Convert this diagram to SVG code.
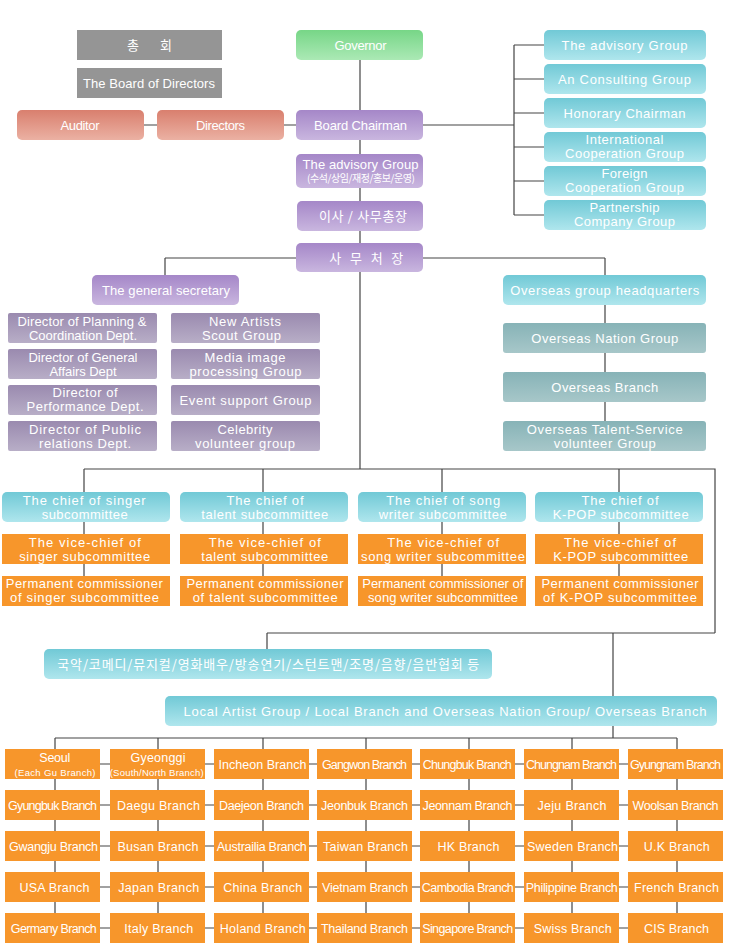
<svg xmlns="http://www.w3.org/2000/svg" width="730" height="948" viewBox="0 0 730 948">
<defs>
<linearGradient id="gP" x1="0" y1="0" x2="0" y2="1"><stop offset="0" stop-color="#a587c8"/><stop offset="1" stop-color="#c9b6df"/></linearGradient>
<linearGradient id="gC" x1="0" y1="0" x2="0" y2="1"><stop offset="0" stop-color="#71c9d6"/><stop offset="1" stop-color="#afe6ed"/></linearGradient>
<linearGradient id="gG" x1="0" y1="0" x2="0" y2="1"><stop offset="0" stop-color="#77d687"/><stop offset="1" stop-color="#abe9b5"/></linearGradient>
<linearGradient id="gS" x1="0" y1="0" x2="0" y2="1"><stop offset="0" stop-color="#d97f6e"/><stop offset="1" stop-color="#ebb1a3"/></linearGradient>
<linearGradient id="gM" x1="0" y1="0" x2="0" y2="1"><stop offset="0" stop-color="#9a8aaf"/><stop offset="1" stop-color="#b8aec7"/></linearGradient>
<linearGradient id="gT" x1="0" y1="0" x2="0" y2="1"><stop offset="0" stop-color="#87b3b7"/><stop offset="1" stop-color="#a7c7c9"/></linearGradient>
</defs>
<style>
text{font-family:"Liberation Sans","Noto Sans CJK KR",sans-serif;font-size:13px;fill:#ffffff;text-anchor:middle}
.k{font-family:"Noto Sans CJK KR","Liberation Sans",sans-serif;font-size:13px}
.sm{font-size:9.5px}
.ks{font-size:10px}
.b{font-size:12.5px}
.ln{stroke:#444444;stroke-width:1.2;fill:none}
.gray{fill:#959595}
.or{fill:#f7962b}
.p{fill:url(#gP)}
.c{fill:url(#gC)}
.g{fill:url(#gG)}
.s{fill:url(#gS)}
.m{fill:url(#gM)}
.tl{fill:url(#gT)}
</style>
<rect width="730" height="948" fill="#ffffff"/>
<g id="connectors" class="ln">
<path d="M360,60 V469"/>
<path d="M144,125 H296"/>
<path d="M423,125 H514 M514,45 V215 M514,45 H544 M514,79 H544 M514,113 H544 M514,147 H544 M514,181 H544 M514,215 H544"/>
<path d="M165,258 H605 M165,258 V275 M605,258 V421"/>
<path d="M84,469 H715 V633 M84,469 V576 M263,469 V576 M442,469 V576 M619,469 V576"/>
<path d="M267,633 H715 M267,633 V649 M613,633 V738"/>
<path d="M55,738 H677 M55,738 V928 M158,738 V928 M263,738 V928 M366,738 V928 M469,738 V928 M572,738 V928 M677,738 V928"/>
<path d="M55,764 H677 M55,805 H677 M55,846 H677 M55,887 H677 M55,928 H677"/>
</g>
<g id="n-chonghoe"><rect class="gray" x="77" y="30" width="145" height="30"/><text class="k" x="149.5" y="49.5" textLength="45">총 회</text></g>
<g id="n-board"><rect class="gray" x="77" y="68" width="145" height="30"/><text x="149" y="87.5" textLength="132">The Board of Directors</text></g>
<g id="n-auditor"><rect class="s" x="17" y="110" width="127" height="30" rx="5"/><text x="80" y="129.5" textLength="39">Auditor</text></g>
<g id="n-directors"><rect class="s" x="157" y="110" width="127" height="30" rx="5"/><text x="220.5" y="129.5" textLength="49">Directors</text></g>
<g id="n-governor"><rect class="g" x="296" y="30" width="127" height="30" rx="5"/><text x="360.5" y="49.5" textLength="52">Governor</text></g>
<g id="n-chairman"><rect class="p" x="296" y="110" width="127" height="30" rx="5"/><text x="360.5" y="129.5" textLength="93">Board Chairman</text></g>
<g id="n-advisory-kr"><rect class="p" x="296" y="154" width="127" height="34" rx="5"/><text x="360.5" y="168.5" textLength="116">The advisory Group</text><text class="k ks" x="361" y="182" textLength="108">(수석/상임/재정/홍보/운영)</text></g>
<g id="n-isa"><rect class="p" x="297" y="201" width="126" height="30" rx="5"/><text class="k" x="363" y="220.5" textLength="88">이사 / 사무총장</text></g>
<g id="n-samucheojang"><rect class="p" x="296" y="243" width="127" height="29" rx="5"/><text class="k" x="366.3" y="262.5" textLength="74">사 무 처 장</text></g>
<g id="n-r1"><rect class="c" x="544" y="30" width="162" height="30" rx="5"/><text x="624.5" y="49.5" textLength="126">The advisory Group</text></g>
<g id="n-r2"><rect class="c" x="544" y="64" width="162" height="30" rx="5"/><text x="624.5" y="83.5" textLength="133">An Consulting Group</text></g>
<g id="n-r3"><rect class="c" x="544" y="98" width="162" height="30" rx="5"/><text x="624.5" y="117.5" textLength="122">Honorary Chairman</text></g>
<g id="n-r4"><rect class="c" x="544" y="132" width="162" height="30" rx="5"/><text x="624.5" y="143.5" textLength="78">International</text><text x="624.5" y="157.5" textLength="119">Cooperation Group</text></g>
<g id="n-r5"><rect class="c" x="544" y="166" width="162" height="30" rx="5"/><text x="624.5" y="178" textLength="46">Foreign</text><text x="624.5" y="192" textLength="119">Cooperation Group</text></g>
<g id="n-r6"><rect class="c" x="544" y="200" width="162" height="30" rx="5"/><text x="624.5" y="211.5" textLength="70">Partnership</text><text x="624.5" y="225.5" textLength="101">Company Group</text></g>
<g id="n-gensec"><rect class="p" x="92" y="275" width="147" height="30" rx="5"/><text x="166" y="294.5" textLength="128">The general secretary</text></g>
<g id="n-d1"><rect class="m" x="8" y="313" width="149" height="30" rx="2"/><text x="82" y="325.5" textLength="129">Director of Planning &amp;</text><text x="83" y="339.5" textLength="108">Coordination Dept.</text></g>
<g id="n-d2"><rect class="m" x="8" y="349" width="149" height="30" rx="2"/><text x="83" y="361.5" textLength="109">Director of General</text><text x="83" y="375.5" textLength="67">Affairs Dept</text></g>
<g id="n-d3"><rect class="m" x="8" y="385" width="149" height="30" rx="2"/><text x="85" y="397" textLength="65">Director of</text><text x="85" y="411" textLength="117">Performance Dept.</text></g>
<g id="n-d4"><rect class="m" x="8" y="421" width="149" height="30" rx="2"/><text x="85" y="433.5" textLength="112">Director of Public</text><text x="85" y="447.5" textLength="92">relations Dept.</text></g>
<g id="n-g1"><rect class="m" x="171" y="313" width="149" height="30" rx="2"/><text x="245" y="325.5" textLength="72">New Artists</text><text x="241.5" y="339.5" textLength="79">Scout Group</text></g>
<g id="n-g2"><rect class="m" x="171" y="349" width="149" height="30" rx="2"/><text x="245" y="361.5" textLength="81">Media image</text><text x="245.5" y="375.5" textLength="112">processing Group</text></g>
<g id="n-g3"><rect class="m" x="171" y="385" width="149" height="30" rx="2"/><text x="245.5" y="404.5" textLength="132">Event support Group</text></g>
<g id="n-g4"><rect class="m" x="171" y="421" width="149" height="30" rx="2"/><text x="245" y="433.5" textLength="55">Celebrity</text><text x="245" y="447.5" textLength="100">volunteer group</text></g>
<g id="n-ohq"><rect class="c" x="503" y="275" width="203" height="30" rx="5"/><text x="604.7" y="294.5" textLength="189">Overseas group headquarters</text></g>
<g id="n-onation"><rect class="tl" x="503" y="323" width="203" height="30" rx="3"/><text x="604.8" y="342.5" textLength="147">Overseas Nation Group</text></g>
<g id="n-obranch"><rect class="tl" x="503" y="372" width="203" height="30" rx="3"/><text x="604.8" y="391.5" textLength="107">Overseas Branch</text></g>
<g id="n-otalent"><rect class="tl" x="503" y="421" width="203" height="30" rx="3"/><text x="604.7" y="433.5" textLength="156">Overseas Talent-Service</text><text x="604.8" y="447.5" textLength="102">volunteer Group</text></g>
<g id="n-chief1"><rect class="c" x="2" y="492" width="168" height="30" rx="5"/><text x="84.2" y="505" textLength="123">The chief of singer</text><text x="84.7" y="519" textLength="86">subcommittee</text></g>
<g id="n-chief2"><rect class="c" x="180" y="492" width="168" height="30" rx="5"/><text x="265" y="505" textLength="77">The chief of</text><text x="264.7" y="519" textLength="127">talent subcommittee</text></g>
<g id="n-chief3"><rect class="c" x="358" y="492" width="168" height="30" rx="5"/><text x="443.2" y="505" textLength="114">The chief of song</text><text x="442.8" y="519" textLength="128">writer subcommittee</text></g>
<g id="n-chief4"><rect class="c" x="535" y="492" width="168" height="30" rx="5"/><text x="620" y="505" textLength="77">The chief of</text><text x="620.7" y="519" textLength="136">K-POP subcommittee</text></g>
<g id="n-vice1"><rect class="or" x="2" y="534" width="168" height="30"/><text x="84.8" y="546.5" textLength="112">The vice-chief of</text><text x="84.7" y="561" textLength="131">singer subcommittee</text></g>
<g id="n-vice2"><rect class="or" x="180" y="534" width="168" height="30"/><text x="264.8" y="546.5" textLength="112">The vice-chief of</text><text x="264.7" y="561" textLength="127">talent subcommittee</text></g>
<g id="n-vice3"><rect class="or" x="358" y="534" width="168" height="30"/><text x="443.2" y="546.5" textLength="112">The vice-chief of</text><text x="443" y="561" textLength="164">song writer subcommittee</text></g>
<g id="n-vice4"><rect class="or" x="535" y="534" width="168" height="30"/><text x="620" y="546.5" textLength="112">The vice-chief of</text><text x="620.7" y="561" textLength="135">K-POP subcommittee</text></g>
<g id="n-perm1"><rect class="or" x="2" y="576" width="168" height="30"/><text x="84.3" y="588" textLength="157">Permanent commissioner</text><text x="84.5" y="602" textLength="149">of singer subcommittee</text></g>
<g id="n-perm2"><rect class="or" x="180" y="576" width="168" height="30"/><text x="265" y="588" textLength="157">Permanent commissioner</text><text x="265.2" y="602" textLength="145">of talent subcommittee</text></g>
<g id="n-perm3"><rect class="or" x="358" y="576" width="168" height="30"/><text x="442.8" y="588" textLength="161">Permanent commissioner of</text><text x="443" y="602" textLength="150">song writer subcommittee</text></g>
<g id="n-perm4"><rect class="or" x="535" y="576" width="168" height="30"/><text x="620" y="588" textLength="157">Permanent commissioner</text><text x="620" y="602" textLength="154">of K-POP subcommittee</text></g>
<g id="n-kr-assoc"><rect class="c" x="44" y="649" width="448" height="30" rx="5"/><text class="k" x="268.3" y="668.5" textLength="422">국악/코메디/뮤지컬/영화배우/방송연기/스턴트맨/조명/음향/음반협회 등</text></g>
<g id="n-local"><rect class="c" x="165" y="696" width="552" height="30" rx="5"/><text x="445" y="715.5" textLength="523">Local Artist Group / Local Branch and Overseas Nation Group/ Overseas Branch</text></g>
<g id="branches">
<g id="b-seoul"><rect class="or" x="5" y="749" width="95" height="30"/><text class="b" x="54.8" y="762" textLength="31">Seoul</text><text class="sm" x="55" y="776" textLength="81">(Each Gu Branch)</text></g>
<g id="b-gyeonggi"><rect class="or" x="110" y="749" width="95" height="30"/><text class="b" x="158" y="762" textLength="55">Gyeonggi</text><text class="sm" x="156.7" y="776" textLength="94">(South/North Branch)</text></g>
<g id="b-incheon"><rect class="or" x="214" y="749" width="95" height="30"/><text class="b" x="262.5" y="768.5" textLength="88">Incheon Branch</text></g>
<g id="b-gangwon"><rect class="or" x="317" y="749" width="95" height="30"/><text class="b" x="364.5" y="768.5" textLength="85">Gangwon Branch</text></g>
<g id="b-chungbuk"><rect class="or" x="420" y="749" width="95" height="30"/><text class="b" x="467.3" y="768.5" textLength="89">Chungbuk Branch</text></g>
<g id="b-chungnam"><rect class="or" x="524" y="749" width="95" height="30"/><text class="b" x="571.5" y="768.5" textLength="91">Chungnam Branch</text></g>
<g id="b-gyungnam"><rect class="or" x="628" y="749" width="95" height="30"/><text class="b" x="675.5" y="768.5" textLength="91">Gyungnam Branch</text></g>
<g id="b-gyungbuk"><rect class="or" x="5" y="790" width="95" height="30"/><text class="b" x="52.5" y="809.5" textLength="89">Gyungbuk Branch</text></g>
<g id="b-daegu"><rect class="or" x="110" y="790" width="95" height="30"/><text class="b" x="158.5" y="809.5" textLength="83">Daegu Branch</text></g>
<g id="b-daejeon"><rect class="or" x="214" y="790" width="95" height="30"/><text class="b" x="261.5" y="809.5" textLength="85">Daejeon Branch</text></g>
<g id="b-jeonbuk"><rect class="or" x="317" y="790" width="95" height="30"/><text class="b" x="364.5" y="809.5" textLength="87">Jeonbuk Branch</text></g>
<g id="b-jeonnam"><rect class="or" x="420" y="790" width="95" height="30"/><text class="b" x="467.5" y="809.5" textLength="90">Jeonnam Branch</text></g>
<g id="b-jeju"><rect class="or" x="524" y="790" width="95" height="30"/><text class="b" x="572" y="809.5" textLength="69">Jeju Branch</text></g>
<g id="b-woolsan"><rect class="or" x="628" y="790" width="95" height="30"/><text class="b" x="675.5" y="809.5" textLength="86">Woolsan Branch</text></g>
<g id="b-gwangju"><rect class="or" x="5" y="831" width="95" height="30"/><text class="b" x="53.5" y="850.5" textLength="89">Gwangju Branch</text></g>
<g id="b-busan"><rect class="or" x="110" y="831" width="95" height="30"/><text class="b" x="158" y="850.5" textLength="81">Busan Branch</text></g>
<g id="b-australia"><rect class="or" x="214" y="831" width="95" height="30"/><text class="b" x="261.8" y="850.5" textLength="90">Austrailia Branch</text></g>
<g id="b-taiwan"><rect class="or" x="317" y="831" width="95" height="30"/><text class="b" x="365.5" y="850.5" textLength="85">Taiwan Branch</text></g>
<g id="b-hk"><rect class="or" x="420" y="831" width="95" height="30"/><text class="b" x="468.5" y="850.5" textLength="62">HK Branch</text></g>
<g id="b-sweden"><rect class="or" x="524" y="831" width="95" height="30"/><text class="b" x="572.5" y="850.5" textLength="91">Sweden Branch</text></g>
<g id="b-uk"><rect class="or" x="628" y="831" width="95" height="30"/><text class="b" x="676.8" y="850.5" textLength="66">U.K Branch</text></g>
<g id="b-usa"><rect class="or" x="5" y="872" width="95" height="30"/><text class="b" x="54.5" y="891.5" textLength="70">USA Branch</text></g>
<g id="b-japan"><rect class="or" x="110" y="872" width="95" height="30"/><text class="b" x="158.7" y="891.5" textLength="81">Japan Branch</text></g>
<g id="b-china"><rect class="or" x="214" y="872" width="95" height="30"/><text class="b" x="262.7" y="891.5" textLength="79">China Branch</text></g>
<g id="b-vietnam"><rect class="or" x="317" y="872" width="95" height="30"/><text class="b" x="365" y="891.5" textLength="86">Vietnam Branch</text></g>
<g id="b-cambodia"><rect class="or" x="420" y="872" width="95" height="30"/><text class="b" x="467.8" y="891.5" textLength="92">Cambodia Branch</text></g>
<g id="b-philippine"><rect class="or" x="524" y="872" width="95" height="30"/><text class="b" x="571.8" y="891.5" textLength="92">Philippine Branch</text></g>
<g id="b-french"><rect class="or" x="628" y="872" width="95" height="30"/><text class="b" x="676.5" y="891.5" textLength="85">French Branch</text></g>
<g id="b-germany"><rect class="or" x="5" y="913" width="95" height="30"/><text class="b" x="53.8" y="932.5" textLength="86">Germany Branch</text></g>
<g id="b-italy"><rect class="or" x="110" y="913" width="95" height="30"/><text class="b" x="158.7" y="932.5" textLength="69">Italy Branch</text></g>
<g id="b-holand"><rect class="or" x="214" y="913" width="95" height="30"/><text class="b" x="262.8" y="932.5" textLength="86">Holand Branch</text></g>
<g id="b-thailand"><rect class="or" x="317" y="913" width="95" height="30"/><text class="b" x="364.5" y="932.5" textLength="87">Thailand Branch</text></g>
<g id="b-singapore"><rect class="or" x="420" y="913" width="95" height="30"/><text class="b" x="467.7" y="932.5" textLength="91">Singapore Branch</text></g>
<g id="b-swiss"><rect class="or" x="524" y="913" width="95" height="30"/><text class="b" x="572.7" y="932.5" textLength="78">Swiss Branch</text></g>
<g id="b-cis"><rect class="or" x="628" y="913" width="95" height="30"/><text class="b" x="676.5" y="932.5" textLength="65">CIS Branch</text></g>
</g>
</svg>
